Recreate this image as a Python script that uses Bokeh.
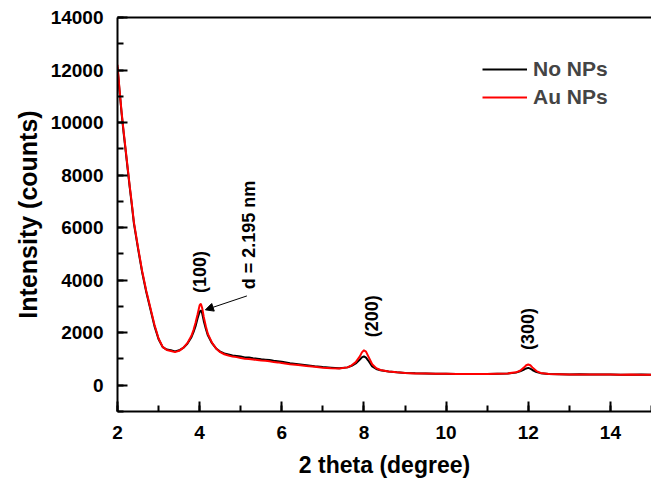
import numpy as np
from bokeh.plotting import figure
from bokeh.models import (Range1d, SingleIntervalTicker, FixedTicker, LinearAxis, Label, Arrow,
                          NormalHead, Legend, LegendItem, Span)
from bokeh.embed import file_html
from bokeh.resources import INLINE
from math import pi

# ---- data ----
two_theta = [2.0, 2.05, 2.1, 2.15, 2.2, 2.25, 2.3, 2.35, 2.4, 2.5, 2.6, 2.7, 2.8, 2.9,
             3.0, 3.1, 3.2, 3.3, 3.4, 3.5, 3.6, 3.7, 3.8, 3.85, 3.9, 3.95, 4.0, 4.03,
             4.06, 4.1, 4.15, 4.2, 4.3, 4.4, 4.5, 4.6, 4.7, 4.8, 4.9, 5.0, 5.1, 5.2, 5.3,
             5.4, 5.5, 5.6, 5.7, 5.8, 5.9, 6.0, 6.2, 6.4, 6.6, 6.8, 7.0, 7.2, 7.4, 7.6,
             7.7, 7.8, 7.9, 7.95, 8.0, 8.05, 8.1, 8.2, 8.3, 8.4, 8.6, 8.8, 9.0, 9.25,
             9.5, 9.75, 10.0, 10.25, 10.5, 10.75, 11.0, 11.25, 11.5, 11.7, 11.8, 11.9,
             11.95, 12.0, 12.05, 12.1, 12.2, 12.3, 12.5, 12.75, 13.0, 13.25, 13.5,
             13.75, 14.0, 14.25, 14.5, 14.75, 15.0]

no_nps = [12100, 11200, 10350, 9600, 8900, 8200, 7500, 6850, 6150, 5200, 4300, 3550,
          2900, 2250, 1750, 1450, 1360, 1330, 1290, 1330, 1420, 1580, 1830, 2020, 2250,
          2550, 2800, 2850, 2750, 2450, 2150, 1900, 1600, 1400, 1280, 1210, 1170, 1130,
          1110, 1090, 1060, 1055, 1030, 1010, 990, 975, 960, 930, 910, 890, 840, 800,
          760, 720, 690, 670, 650, 680, 740, 830, 980, 1060, 1100, 1050, 950, 720, 620,
          570, 520, 490, 470, 455, 450, 440, 440, 430, 430, 425, 430, 440, 450, 480,
          530, 600, 640, 660, 630, 580, 500, 460, 430, 420, 410, 415, 410, 405, 410,
          400, 400, 405, 400]

au_nps = [12200, 11250, 10400, 9650, 8950, 8250, 7550, 6900, 6200, 5250, 4350, 3600,
          2950, 2300, 1780, 1460, 1340, 1300, 1260, 1310, 1420, 1600, 1880, 2100, 2380,
          2700, 3050, 3100, 2950, 2600, 2250, 1950, 1620, 1400, 1260, 1180, 1130, 1090,
          1070, 1040, 1010, 1000, 980, 960, 940, 930, 910, 880, 870, 850, 800, 770, 730,
          700, 670, 650, 640, 680, 760, 880, 1100, 1250, 1330, 1280, 1120, 800, 650,
          580, 520, 490, 465, 450, 445, 440, 435, 430, 425, 430, 430, 440, 450, 490,
          550, 680, 760, 790, 760, 680, 540, 470, 430, 420, 410, 410, 405, 410, 405,
          400, 405, 400, 400]

series_names = ["No NPs", "Au NPs"]
peak_labels = ["(100)", "(200)", "(300)"]
peak_pos = [4.0, 8.2, 12.0]
peak_label_y = [4310, 2630, 2140]

FONT = "Liberation Sans"

p = figure(width=651, height=481, output_backend="svg", toolbar_location=None,
           x_range=Range1d(2, 15), y_range=Range1d(-1000, 14000),
           x_axis_label="2 theta (degree)", y_axis_label="Intensity (counts)",
           min_border_left=117, min_border_top=17, min_border_right=0,
           min_border_bottom=70)
p.outline_line_color = None
p.grid.visible = False
p.background_fill_color = "white"
p.border_fill_color = "white"

p.xaxis.ticker = SingleIntervalTicker(interval=2, num_minor_ticks=2)
p.yaxis.ticker = SingleIntervalTicker(interval=2000, num_minor_ticks=2)

for ax in (p.xaxis[0], p.yaxis[0]):
    ax.axis_line_width = 2
    ax.axis_line_color = "black"
    ax.major_tick_in = 10
    ax.major_tick_out = 0
    ax.minor_tick_in = 6
    ax.minor_tick_out = 0
    ax.major_tick_line_width = 2
    ax.minor_tick_line_width = 2
    ax.major_label_text_font = FONT
    ax.major_label_text_font_style = "bold"
    ax.major_label_text_font_size = "19px"
    ax.major_label_text_color = "black"
    ax.axis_label_text_font = FONT
    ax.axis_label_text_font_style = "bold"
    ax.axis_label_text_color = "black"

p.xaxis.major_label_standoff = 14
p.xaxis.axis_label_standoff = 10
p.xaxis.axis_label_text_font_size = "23px"
p.yaxis.major_label_standoff = 14
p.yaxis.axis_label_standoff = 6
p.yaxis.axis_label_text_font_size = "25px"

top_ax = LinearAxis(ticker=FixedTicker(ticks=[]),
                    major_tick_line_color=None, minor_tick_line_color=None,
                    axis_line_width=2, axis_line_color="black")
p.add_layout(top_ax, "above")
p.add_layout(Span(location=15, dimension="height", line_color="#b0b0b0", line_width=1))

r_no = p.line(two_theta, no_nps, line_color="black", line_width=2)
r_au = p.line(two_theta, au_nps, line_color="#ff0000", line_width=2)

legend = Legend(items=[LegendItem(label=series_names[0], renderers=[r_no]),
                       LegendItem(label=series_names[1], renderers=[r_au])],
                location=(365, 302), border_line_color=None, background_fill_alpha=0,
                label_text_font=FONT, label_text_font_style="bold",
                label_text_font_size="21px", glyph_width=45, glyph_height=24,
                label_height=24, spacing=4, padding=0, margin=0, label_standoff=6)
p.add_layout(legend)

for txt, xx, yy in zip(peak_labels, peak_pos, peak_label_y):
    p.add_layout(Label(x=xx, y=yy, text=txt, angle=pi / 2, text_align="center",
                       text_baseline="middle", text_font=FONT, text_font_style="bold",
                       text_font_size="18px", text_color="black"))

p.add_layout(Label(x=5.19, y=5720, text="d = 2.195 nm", angle=pi / 2, text_align="center",
                   text_baseline="middle", text_font=FONT, text_font_style="bold",
                   text_font_size="18px", text_color="black"))
p.add_layout(Arrow(x_start=5.15, y_start=3400, x_end=4.14, y_end=2870,
                   line_width=1, line_color="black",
                   end=NormalHead(size=8, fill_color="black", line_color="black")))

open("out.html", "w").write(file_html(p, INLINE))
